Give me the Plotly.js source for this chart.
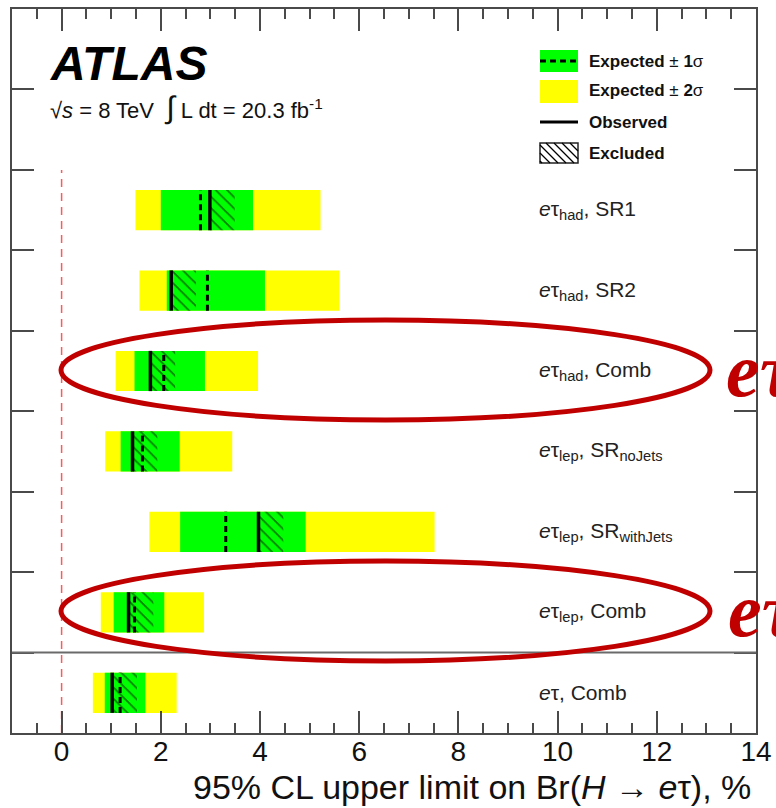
<!DOCTYPE html>
<html>
<head>
<meta charset="utf-8">
<script src="https://cdn.plot.ly/plotly-3.0.1.min.js"></script>
<style>
  html, body { margin: 0; padding: 0; background: #fff; }
  #chart { width: 776px; height: 808px; }
</style>
</head>
<body>
<div id="chart"></div>
<script>
// Channels, top to bottom
const channels = [
  "<i>e</i>τ<sub>had</sub>, SR1",
  "<i>e</i>τ<sub>had</sub>, SR2",
  "<i>e</i>τ<sub>had</sub>, Comb",
  "<i>e</i>τ<sub>lep</sub>, SR<sub>noJets</sub>",
  "<i>e</i>τ<sub>lep</sub>, SR<sub>withJets</sub>",
  "<i>e</i>τ<sub>lep</sub>, Comb",
  "<i>e</i>τ, Comb"
];
// 95% CL upper limits on Br(H -> e tau), in %
const expected  = [2.80, 2.94, 2.06, 1.63, 3.31, 1.47, 1.18];
const observed  = [2.99, 2.21, 1.79, 1.43, 3.97, 1.35, 1.02];
const band1Low  = [2.00, 2.12, 1.47, 1.19, 2.39, 1.05, 0.87];
const band1High = [3.86, 4.10, 2.89, 2.38, 4.92, 2.07, 1.69];
const band2Low  = [1.49, 1.57, 1.09, 0.88, 1.77, 0.79, 0.63];
const band2High = [5.22, 5.60, 3.96, 3.44, 7.52, 2.87, 2.32];
const xTickLabels = ["0", "2", "4", "6", "8", "10", "12", "14"];

// Styling
const BAR_H = 0.5;          // bar thickness in row units
const HATCH_W = 0.5;        // width of excluded (hatched) strip
const FRAME = "#4a4a4a";
const RED = "#c00000";
const FONT = "Liberation Sans, Arial, sans-serif";

// frame in pixels: left 12, right 756, top 9, bottom 733
const L = 12, R = 756, T = 9, B = 733;
const px = v => (v - L) / (R - L);
const py = v => (B - v) / (B - T);

const rowY = channels.map((_, i) => channels.length - 0.5 - i);

function vSegments(vals) {
  const xs = [], ys = [];
  vals.forEach((v, i) => {
    xs.push(v, v, null);
    ys.push(rowY[i] - BAR_H / 2, rowY[i] + BAR_H / 2, null);
  });
  return {x: xs, y: ys};
}

const traces = [
  {
    type: "bar", orientation: "h", y: rowY, base: band2Low,
    x: band2High.map((h, i) => h - band2Low[i]), width: BAR_H,
    marker: {color: "#ffff00", line: {width: 0}}, hoverinfo: "skip"
  },
  {
    type: "bar", orientation: "h", y: rowY, base: band1Low,
    x: band1High.map((h, i) => h - band1Low[i]), width: BAR_H,
    marker: {color: "#00ff00", line: {width: 0}}, hoverinfo: "skip"
  },
  {
    type: "bar", orientation: "h", y: rowY, base: observed,
    x: observed.map(() => HATCH_W), width: BAR_H,
    marker: {
      color: "rgba(0,0,0,0)", line: {width: 0},
      pattern: {shape: "\\", fgcolor: "#000", size: 8, solidity: 0.22, fillmode: "overlay"}
    },
    hoverinfo: "skip"
  },
  Object.assign({
    type: "scatter", mode: "lines",
    line: {color: "#000", width: 3, dash: "6px,4px"}, hoverinfo: "skip"
  }, vSegments(expected)),
  Object.assign({
    type: "scatter", mode: "lines",
    line: {color: "#000", width: 3.5}, hoverinfo: "skip"
  }, vSegments(observed))
];

const shapes = [
  // zero reference
  {type: "line", xref: "x", yref: "y", x0: 0, x1: 0, y0: 0, y1: 7,
   line: {color: "#ff5a5a", width: 1.5, dash: "8px,6px"}, layer: "below"},
  // separator above the overall combination
  {type: "line", xref: "paper", yref: "y", x0: 0, x1: 1, y0: 1, y1: 1,
   line: {color: "#6a6a6a", width: 2}},
  // legend: expected +-1 sigma
  {type: "rect", xref: "paper", yref: "paper", x0: px(540), x1: px(578), y0: py(72), y1: py(50),
   fillcolor: "#00ff00", line: {width: 0}},
  {type: "line", xref: "paper", yref: "paper", x0: px(540), x1: px(578), y0: py(61), y1: py(61),
   line: {color: "#000", width: 3, dash: "6px,4px"}},
  // legend: expected +-2 sigma
  {type: "rect", xref: "paper", yref: "paper", x0: px(540), x1: px(578), y0: py(103), y1: py(80),
   fillcolor: "#ffff00", line: {width: 0}},
  // legend: observed
  {type: "line", xref: "paper", yref: "paper", x0: px(540), x1: px(578), y0: py(122), y1: py(122),
   line: {color: "#000", width: 3}},
  // legend: excluded box
  {type: "rect", xref: "paper", yref: "paper", x0: px(540), x1: px(578), y0: py(163), y1: py(143),
   fillcolor: "rgba(0,0,0,0)", line: {color: "#222", width: 1.5}},
  // highlight ellipses
  {type: "circle", xref: "paper", yref: "paper", x0: px(61), x1: px(710), y0: py(420), y1: py(320),
   line: {color: RED, width: 5}},
  {type: "circle", xref: "paper", yref: "paper", x0: px(61), x1: px(710), y0: py(661), y1: py(561),
   line: {color: RED, width: 5}}
];

// hatch lines inside the "Excluded" legend box
(function () {
  const x0 = 540, x1 = 578, y0 = 143, y1 = 163, step = 8;
  for (let c = -(y1 - y0) + 2; c < (x1 - x0); c += step) {
    // line: (x - x0) - (y - y0) = c
    let ax = x0 + c, ay = y0, bx = x0 + c + (y1 - y0), by = y1;
    if (ax < x0) { ay += (x0 - ax); ax = x0; }
    if (bx > x1) { by -= (bx - x1); bx = x1; }
    shapes.push({type: "line", xref: "paper", yref: "paper",
      x0: px(ax), y0: py(ay), x1: px(bx), y1: py(by),
      line: {color: "#000", width: 1.2}});
  }
})();

const annotations = [
  {xref: "paper", yref: "paper", x: px(48), y: py(64), xanchor: "left", yanchor: "middle",
   text: "<b><i>ATLAS</i></b>", showarrow: false,
   font: {family: FONT, size: 48, color: "#000"}},
  {xref: "paper", yref: "paper", x: px(48), y: py(107), xanchor: "left", yanchor: "middle",
   text: "√<i>s</i> = 8 TeV  <span style=\"font-size:31px\">∫</span> L dt = 20.3 fb<sup>-1</sup>",
   showarrow: false, font: {family: FONT, size: 22, color: "#111"}},
  {xref: "paper", yref: "paper", x: px(587), y: py(61), xanchor: "left", yanchor: "middle",
   text: "<b>Expected</b> ± <b>1</b>σ", showarrow: false, font: {family: FONT, size: 17, color: "#111"}},
  {xref: "paper", yref: "paper", x: px(587), y: py(91), xanchor: "left", yanchor: "middle",
   text: "<b>Expected</b> ± <b>2</b>σ", showarrow: false, font: {family: FONT, size: 17, color: "#111"}},
  {xref: "paper", yref: "paper", x: px(587), y: py(122), xanchor: "left", yanchor: "middle",
   text: "<b>Observed</b>", showarrow: false, font: {family: FONT, size: 17, color: "#111"}},
  {xref: "paper", yref: "paper", x: px(587), y: py(153), xanchor: "left", yanchor: "middle",
   text: "<b>Excluded</b>", showarrow: false, font: {family: FONT, size: 17, color: "#111"}},
  {xref: "paper", yref: "paper", x: px(753), y: py(787), xanchor: "right", yanchor: "middle",
   text: "95% CL upper limit on Br(<i>H</i> → <i>e</i>τ), %", showarrow: false,
   font: {family: FONT, size: 34, color: "#111"}},
  {xref: "paper", yref: "paper", x: px(724), y: py(370), xanchor: "left", yanchor: "middle",
   text: "<b><i>eτ</i></b>", showarrow: false,
   font: {family: "Liberation Serif, serif", size: 76, color: RED}},
  {xref: "paper", yref: "paper", x: px(726), y: py(610), xanchor: "left", yanchor: "middle",
   text: "<b><i>eτ</i></b>", showarrow: false,
   font: {family: "Liberation Serif, serif", size: 76, color: RED}}
];
channels.forEach((name, i) => {
  annotations.push({xref: "paper", yref: "y", x: px(537), y: rowY[i],
    xanchor: "left", yanchor: "middle", text: name, showarrow: false,
    font: {family: FONT, size: 21, color: "#222"}});
});

const layout = {
  width: 776, height: 808,
  margin: {l: L, r: 776 - R, t: T, b: 808 - B, pad: 0},
  paper_bgcolor: "#fff", plot_bgcolor: "#fff",
  showlegend: false, barmode: "overlay",
  xaxis: {
    range: [-1, 14], tickvals: xTickLabels.map(Number), ticktext: xTickLabels,
    ticks: "inside", ticklen: 22, tickwidth: 2, tickcolor: FRAME,
    showline: true, linecolor: FRAME, linewidth: 2, mirror: "allticks",
    showgrid: false, zeroline: false,
    minor: {dtick: 0.5, tick0: 0, ticks: "inside", ticklen: 10, tickwidth: 2, tickcolor: FRAME, showgrid: false},
    tickfont: {family: FONT, size: 28, color: "#111"}, ticklabelstandoff: -8, fixedrange: true
  },
  yaxis: {
    range: [0, 9], tickvals: [1, 2, 3, 4, 5, 6, 7, 8], showticklabels: false,
    ticks: "inside", ticklen: 22, tickwidth: 2, tickcolor: FRAME,
    showline: true, linecolor: FRAME, linewidth: 2, mirror: "allticks",
    showgrid: false, zeroline: false, fixedrange: true
  },
  shapes: shapes,
  annotations: annotations
};

Plotly.newPlot("chart", traces, layout, {displayModeBar: false, staticPlot: true});
</script>
</body>
</html>
